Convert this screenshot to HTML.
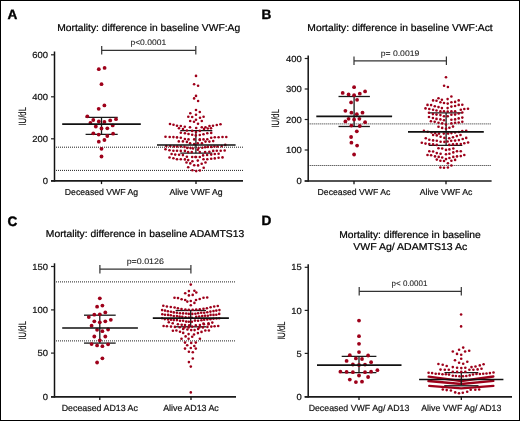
<!DOCTYPE html>
<html><head><meta charset="utf-8"><style>
html,body{margin:0;padding:0;background:#fff;}
svg{display:block;will-change:transform;}
text{font-family:"Liberation Sans", sans-serif;text-rendering:geometricPrecision;}
</style></head><body>
<svg width="520" height="421" viewBox="0 0 520 421">
<rect x="0" y="0" width="520" height="421" fill="#fff"/>
<g fill="#9e001a">
<line x1="54.5" y1="51.5" x2="54.5" y2="181.70000000000002" stroke="#111" stroke-width="1.5"/>
<line x1="51.0" y1="180.9" x2="243" y2="180.9" stroke="#1a1a1a" stroke-width="1.7"/>
<line x1="51.0" y1="54.8" x2="54.5" y2="54.8" stroke="#222" stroke-width="1.2"/>
<text x="48" y="57.9" font-size="8.9" text-anchor="end" font-weight="normal" fill="#111" textLength="15.69" lengthAdjust="spacingAndGlyphs" stroke="#111" stroke-width="0.2">600</text>
<line x1="51.0" y1="96.8" x2="54.5" y2="96.8" stroke="#222" stroke-width="1.2"/>
<text x="48" y="99.89999999999999" font-size="8.9" text-anchor="end" font-weight="normal" fill="#111" textLength="15.69" lengthAdjust="spacingAndGlyphs" stroke="#111" stroke-width="0.2">400</text>
<line x1="51.0" y1="138.8" x2="54.5" y2="138.8" stroke="#222" stroke-width="1.2"/>
<text x="48" y="141.9" font-size="8.9" text-anchor="end" font-weight="normal" fill="#111" textLength="15.69" lengthAdjust="spacingAndGlyphs" stroke="#111" stroke-width="0.2">200</text>
<line x1="51.0" y1="180.9" x2="54.5" y2="180.9" stroke="#222" stroke-width="1.2"/>
<text x="48" y="184.0" font-size="8.9" text-anchor="end" font-weight="normal" fill="#111" textLength="5.23" lengthAdjust="spacingAndGlyphs" stroke="#111" stroke-width="0.2">0</text>
<line x1="101.5" y1="180.9" x2="101.5" y2="184.1" stroke="#111" stroke-width="1.3"/>
<text x="101.5" y="195.0" font-size="8.7" text-anchor="middle" font-weight="normal" fill="#111" stroke="#111" stroke-width="0.2">Deceased VWF Ag</text>
<line x1="196" y1="180.9" x2="196" y2="184.1" stroke="#111" stroke-width="1.3"/>
<text x="196" y="195.0" font-size="8.7" text-anchor="middle" font-weight="normal" fill="#111" stroke="#111" stroke-width="0.2">Alive VWF Ag</text>
<line x1="56.0" y1="147.2" x2="243" y2="147.2" stroke="#222" stroke-width="1" stroke-dasharray="1 1"/>
<line x1="56.0" y1="170.4" x2="243" y2="170.4" stroke="#222" stroke-width="1" stroke-dasharray="1 1"/>
<text x="0" y="0" font-size="10.6" text-anchor="middle" fill="#111" stroke="#111" stroke-width="0.1" transform="translate(23.0 116.3) rotate(-90) scale(0.73 1)" dominant-baseline="central">IU/dL</text>
<text x="7.5" y="18.9" font-size="13.6" text-anchor="start" font-weight="bold" fill="#000" stroke="#000" stroke-width="0.4">A</text>
<text x="148.7" y="31" font-size="9.9" text-anchor="middle" font-weight="normal" fill="#000" textLength="183.0" lengthAdjust="spacingAndGlyphs" stroke="#000" stroke-width="0.22">Mortality: difference in baseline VWF:Ag</text>
<line x1="101.7" y1="50.4" x2="195.8" y2="50.4" stroke="#333" stroke-width="1.2"/>
<line x1="101.7" y1="46.1" x2="101.7" y2="54.6" stroke="#333" stroke-width="1.2"/>
<line x1="195.8" y1="46.1" x2="195.8" y2="54.6" stroke="#333" stroke-width="1.2"/>
<text x="148.3" y="44.6" font-size="8.0" text-anchor="middle" font-weight="normal" fill="#1a1a1a" textLength="35.8" lengthAdjust="spacingAndGlyphs" stroke="#1a1a1a" stroke-width="0.08">p&lt;0.0001</text>
<line x1="85.6" y1="117.4" x2="117.7" y2="117.4" stroke="#1a1a1a" stroke-width="1.3"/>
<line x1="85.6" y1="134.3" x2="117.7" y2="134.3" stroke="#1a1a1a" stroke-width="1.3"/>
<line x1="101.5" y1="117.4" x2="101.5" y2="134.3" stroke="#1a1a1a" stroke-width="1.3"/>
<line x1="180.3" y1="130.6" x2="212.3" y2="130.6" stroke="#1a1a1a" stroke-width="1.3"/>
<line x1="180.3" y1="153.2" x2="212.3" y2="153.2" stroke="#1a1a1a" stroke-width="1.3"/>
<line x1="195.9" y1="130.6" x2="195.9" y2="153.2" stroke="#1a1a1a" stroke-width="1.3"/>
<circle cx="98.8" cy="69.2" r="1.9"/>
<circle cx="104.6" cy="67.9" r="1.9"/>
<circle cx="101.5" cy="84.2" r="1.9"/>
<circle cx="98.7" cy="108.8" r="1.9"/>
<circle cx="104.4" cy="105.4" r="1.9"/>
<circle cx="87.3" cy="116.3" r="1.9"/>
<circle cx="93.3" cy="120.0" r="1.9"/>
<circle cx="98.8" cy="121.5" r="1.9"/>
<circle cx="104.4" cy="121.9" r="1.9"/>
<circle cx="110.2" cy="120.4" r="1.9"/>
<circle cx="116.0" cy="119.2" r="1.9"/>
<circle cx="90.4" cy="123.0" r="1.9"/>
<circle cx="95.8" cy="126.5" r="1.9"/>
<circle cx="101.5" cy="128.5" r="1.9"/>
<circle cx="107.3" cy="128.3" r="1.9"/>
<circle cx="112.7" cy="125.4" r="1.9"/>
<circle cx="93.3" cy="133.3" r="1.9"/>
<circle cx="98.7" cy="134.6" r="1.9"/>
<circle cx="107.3" cy="136.0" r="1.9"/>
<circle cx="113.1" cy="133.7" r="1.9"/>
<circle cx="98.8" cy="141.7" r="1.9"/>
<circle cx="104.4" cy="140.0" r="1.9"/>
<circle cx="101.5" cy="148.8" r="1.9"/>
<circle cx="101.5" cy="156.5" r="1.9"/>
<circle cx="196.0" cy="75.9" r="1.3"/>
<circle cx="194.1" cy="84.3" r="1.3"/>
<circle cx="198.1" cy="85.7" r="1.3"/>
<circle cx="196.0" cy="95.9" r="1.3"/>
<circle cx="194.1" cy="98.4" r="1.3"/>
<circle cx="198.1" cy="101.0" r="1.3"/>
<circle cx="196.0" cy="110.0" r="1.3"/>
<circle cx="199.8" cy="112.0" r="1.3"/>
<circle cx="190.3" cy="113.3" r="1.3"/>
<circle cx="196.0" cy="114.8" r="1.3"/>
<circle cx="188.3" cy="116.7" r="1.3"/>
<circle cx="192.2" cy="117.0" r="1.3"/>
<circle cx="200.0" cy="117.8" r="1.3"/>
<circle cx="203.6" cy="116.8" r="1.3"/>
<circle cx="190.2" cy="121.0" r="1.3"/>
<circle cx="196.0" cy="119.8" r="1.3"/>
<circle cx="194.0" cy="121.8" r="1.3"/>
<circle cx="201.8" cy="121.0" r="1.3"/>
<circle cx="198.0" cy="123.7" r="1.3"/>
<circle cx="170.0" cy="124.0" r="1.3"/>
<circle cx="173.5" cy="124.7" r="1.3"/>
<circle cx="177.0" cy="125.8" r="1.3"/>
<circle cx="180.8" cy="126.0" r="1.3"/>
<circle cx="179.0" cy="128.2" r="1.3"/>
<circle cx="184.8" cy="126.8" r="1.3"/>
<circle cx="183.0" cy="129.0" r="1.3"/>
<circle cx="190.0" cy="127.2" r="1.3"/>
<circle cx="196.2" cy="128.0" r="1.3"/>
<circle cx="201.8" cy="127.2" r="1.3"/>
<circle cx="205.5" cy="127.2" r="1.3"/>
<circle cx="209.5" cy="126.0" r="1.3"/>
<circle cx="213.0" cy="125.8" r="1.3"/>
<circle cx="216.8" cy="125.0" r="1.3"/>
<circle cx="220.5" cy="124.2" r="1.3"/>
<circle cx="204.0" cy="129.0" r="1.3"/>
<circle cx="207.8" cy="128.5" r="1.3"/>
<circle cx="211.0" cy="128.2" r="1.3"/>
<circle cx="186.9" cy="130.5" r="1.3"/>
<circle cx="192.2" cy="130.9" r="1.3"/>
<circle cx="180.8" cy="132.7" r="1.3"/>
<circle cx="184.9" cy="133.3" r="1.3"/>
<circle cx="188.5" cy="134.0" r="1.3"/>
<circle cx="192.2" cy="134.8" r="1.3"/>
<circle cx="195.8" cy="135.4" r="1.3"/>
<circle cx="165.5" cy="136.7" r="1.3"/>
<circle cx="169.7" cy="137.0" r="1.3"/>
<circle cx="173.4" cy="137.1" r="1.3"/>
<circle cx="177.0" cy="137.4" r="1.3"/>
<circle cx="180.8" cy="137.8" r="1.3"/>
<circle cx="184.9" cy="139.0" r="1.3"/>
<circle cx="188.5" cy="139.4" r="1.3"/>
<circle cx="194.2" cy="139.4" r="1.3"/>
<circle cx="199.8" cy="130.9" r="1.3"/>
<circle cx="199.8" cy="135.0" r="1.3"/>
<circle cx="203.5" cy="134.2" r="1.3"/>
<circle cx="207.3" cy="133.2" r="1.3"/>
<circle cx="211.2" cy="132.9" r="1.3"/>
<circle cx="211.2" cy="137.8" r="1.3"/>
<circle cx="214.8" cy="137.2" r="1.3"/>
<circle cx="218.6" cy="137.2" r="1.3"/>
<circle cx="222.5" cy="137.0" r="1.3"/>
<circle cx="226.3" cy="137.0" r="1.3"/>
<circle cx="196.0" cy="132.1" r="1.3"/>
<circle cx="199.8" cy="139.4" r="1.3"/>
<circle cx="203.5" cy="139.4" r="1.3"/>
<circle cx="207.3" cy="139.2" r="1.3"/>
<circle cx="178.8" cy="141.4" r="1.3"/>
<circle cx="182.9" cy="141.4" r="1.3"/>
<circle cx="186.9" cy="141.9" r="1.3"/>
<circle cx="190.1" cy="143.3" r="1.3"/>
<circle cx="194.2" cy="144.1" r="1.3"/>
<circle cx="166.3" cy="146.1" r="1.3"/>
<circle cx="170.3" cy="146.1" r="1.3"/>
<circle cx="174.0" cy="146.5" r="1.3"/>
<circle cx="177.2" cy="146.5" r="1.3"/>
<circle cx="180.8" cy="146.5" r="1.3"/>
<circle cx="184.5" cy="146.9" r="1.3"/>
<circle cx="187.3" cy="147.9" r="1.3"/>
<circle cx="190.5" cy="148.1" r="1.3"/>
<circle cx="193.0" cy="148.5" r="1.3"/>
<circle cx="165.5" cy="149.3" r="1.3"/>
<circle cx="169.5" cy="150.3" r="1.3"/>
<circle cx="173.4" cy="150.8" r="1.3"/>
<circle cx="177.0" cy="150.8" r="1.3"/>
<circle cx="180.8" cy="150.9" r="1.3"/>
<circle cx="184.9" cy="150.9" r="1.3"/>
<circle cx="188.1" cy="152.1" r="1.3"/>
<circle cx="191.8" cy="152.1" r="1.3"/>
<circle cx="171.6" cy="154.0" r="1.3"/>
<circle cx="175.2" cy="154.6" r="1.3"/>
<circle cx="179.1" cy="154.8" r="1.3"/>
<circle cx="182.9" cy="155.1" r="1.3"/>
<circle cx="186.9" cy="156.7" r="1.3"/>
<circle cx="192.2" cy="157.0" r="1.3"/>
<circle cx="169.5" cy="157.5" r="1.3"/>
<circle cx="173.4" cy="158.2" r="1.3"/>
<circle cx="177.0" cy="159.2" r="1.3"/>
<circle cx="180.8" cy="159.2" r="1.3"/>
<circle cx="184.9" cy="159.4" r="1.3"/>
<circle cx="195.4" cy="157.0" r="1.3"/>
<circle cx="199.8" cy="140.0" r="1.3"/>
<circle cx="205.5" cy="141.6" r="1.3"/>
<circle cx="209.4" cy="141.6" r="1.3"/>
<circle cx="213.2" cy="141.1" r="1.3"/>
<circle cx="197.8" cy="143.3" r="1.3"/>
<circle cx="201.9" cy="143.3" r="1.3"/>
<circle cx="198.6" cy="148.1" r="1.3"/>
<circle cx="202.3" cy="147.7" r="1.3"/>
<circle cx="205.1" cy="147.3" r="1.3"/>
<circle cx="207.9" cy="146.9" r="1.3"/>
<circle cx="211.2" cy="146.9" r="1.3"/>
<circle cx="214.4" cy="146.5" r="1.3"/>
<circle cx="217.6" cy="146.5" r="1.3"/>
<circle cx="221.7" cy="146.1" r="1.3"/>
<circle cx="225.3" cy="144.9" r="1.3"/>
<circle cx="197.8" cy="149.7" r="1.3"/>
<circle cx="199.8" cy="152.1" r="1.3"/>
<circle cx="205.1" cy="152.1" r="1.3"/>
<circle cx="209.4" cy="151.7" r="1.3"/>
<circle cx="213.2" cy="150.9" r="1.3"/>
<circle cx="216.8" cy="150.8" r="1.3"/>
<circle cx="220.7" cy="150.8" r="1.3"/>
<circle cx="224.7" cy="150.5" r="1.3"/>
<circle cx="203.1" cy="155.4" r="1.3"/>
<circle cx="207.1" cy="155.0" r="1.3"/>
<circle cx="211.2" cy="154.6" r="1.3"/>
<circle cx="214.8" cy="154.0" r="1.3"/>
<circle cx="218.6" cy="153.8" r="1.3"/>
<circle cx="196.0" cy="157.0" r="1.3"/>
<circle cx="199.8" cy="157.0" r="1.3"/>
<circle cx="203.5" cy="159.2" r="1.3"/>
<circle cx="207.3" cy="159.2" r="1.3"/>
<circle cx="211.2" cy="158.8" r="1.3"/>
<circle cx="214.8" cy="158.4" r="1.3"/>
<circle cx="218.6" cy="157.8" r="1.3"/>
<circle cx="222.5" cy="157.4" r="1.3"/>
<circle cx="186.5" cy="162.5" r="1.3"/>
<circle cx="190.3" cy="163.4" r="1.3"/>
<circle cx="192.4" cy="161.3" r="1.3"/>
<circle cx="197.8" cy="160.6" r="1.3"/>
<circle cx="201.7" cy="163.7" r="1.3"/>
<circle cx="205.5" cy="162.5" r="1.3"/>
<circle cx="194.2" cy="165.2" r="1.3"/>
<circle cx="198.1" cy="165.4" r="1.3"/>
<circle cx="188.2" cy="167.3" r="1.3"/>
<circle cx="203.7" cy="167.8" r="1.3"/>
<circle cx="192.4" cy="170.2" r="1.3"/>
<circle cx="196.2" cy="171.1" r="1.3"/>
<circle cx="199.9" cy="170.5" r="1.3"/>
<circle cx="188.2" cy="160.1" r="1.3"/>
<line x1="62.2" y1="124.2" x2="140.8" y2="124.2" stroke="#111" stroke-width="1.7"/>
<line x1="157" y1="145.0" x2="235.6" y2="145.0" stroke="#111" stroke-width="1.7"/>
<line x1="308.2" y1="55.5" x2="308.2" y2="181.8" stroke="#111" stroke-width="1.5"/>
<line x1="304.7" y1="181.0" x2="491.6" y2="181.0" stroke="#1a1a1a" stroke-width="1.7"/>
<line x1="304.7" y1="58.5" x2="308.2" y2="58.5" stroke="#222" stroke-width="1.2"/>
<text x="301.7" y="61.6" font-size="8.9" text-anchor="end" font-weight="normal" fill="#111" textLength="15.69" lengthAdjust="spacingAndGlyphs" stroke="#111" stroke-width="0.2">400</text>
<line x1="304.7" y1="89" x2="308.2" y2="89" stroke="#222" stroke-width="1.2"/>
<text x="301.7" y="92.1" font-size="8.9" text-anchor="end" font-weight="normal" fill="#111" textLength="15.69" lengthAdjust="spacingAndGlyphs" stroke="#111" stroke-width="0.2">300</text>
<line x1="304.7" y1="119.5" x2="308.2" y2="119.5" stroke="#222" stroke-width="1.2"/>
<text x="301.7" y="122.6" font-size="8.9" text-anchor="end" font-weight="normal" fill="#111" textLength="15.69" lengthAdjust="spacingAndGlyphs" stroke="#111" stroke-width="0.2">200</text>
<line x1="304.7" y1="150" x2="308.2" y2="150" stroke="#222" stroke-width="1.2"/>
<text x="301.7" y="153.1" font-size="8.9" text-anchor="end" font-weight="normal" fill="#111" textLength="15.69" lengthAdjust="spacingAndGlyphs" stroke="#111" stroke-width="0.2">100</text>
<line x1="304.7" y1="181" x2="308.2" y2="181" stroke="#222" stroke-width="1.2"/>
<text x="301.7" y="184.1" font-size="8.9" text-anchor="end" font-weight="normal" fill="#111" textLength="5.23" lengthAdjust="spacingAndGlyphs" stroke="#111" stroke-width="0.2">0</text>
<line x1="354" y1="181.0" x2="354" y2="184.2" stroke="#111" stroke-width="1.3"/>
<text x="354" y="194.9" font-size="8.7" text-anchor="middle" font-weight="normal" fill="#111" stroke="#111" stroke-width="0.2">Deceased VWF Ac</text>
<line x1="446" y1="181.0" x2="446" y2="184.2" stroke="#111" stroke-width="1.3"/>
<text x="446" y="194.9" font-size="8.7" text-anchor="middle" font-weight="normal" fill="#111" stroke="#111" stroke-width="0.2">Alive VWF Ac</text>
<line x1="309.7" y1="123.9" x2="491.6" y2="123.9" stroke="#222" stroke-width="1" stroke-dasharray="1 1"/>
<line x1="309.7" y1="165.5" x2="491.6" y2="165.5" stroke="#222" stroke-width="1" stroke-dasharray="1 1"/>
<text x="0" y="0" font-size="10.6" text-anchor="middle" fill="#111" stroke="#111" stroke-width="0.1" transform="translate(276.05 118.3) rotate(-90) scale(0.73 1)" dominant-baseline="central">IU/dL</text>
<text x="261.5" y="18.5" font-size="13.6" text-anchor="start" font-weight="bold" fill="#000" stroke="#000" stroke-width="0.4">B</text>
<text x="400" y="31" font-size="9.9" text-anchor="middle" font-weight="normal" fill="#000" textLength="185.3" lengthAdjust="spacingAndGlyphs" stroke="#000" stroke-width="0.22">Mortality: difference in baseline VWF:Act</text>
<line x1="354" y1="60.8" x2="446.4" y2="60.8" stroke="#333" stroke-width="1.2"/>
<line x1="354" y1="56.5" x2="354" y2="65.0" stroke="#333" stroke-width="1.2"/>
<line x1="446.4" y1="56.5" x2="446.4" y2="65.0" stroke="#333" stroke-width="1.2"/>
<text x="400" y="56.1" font-size="8.0" text-anchor="middle" font-weight="normal" fill="#1a1a1a" textLength="38.6" lengthAdjust="spacingAndGlyphs" stroke="#1a1a1a" stroke-width="0.08">p= 0.0019</text>
<line x1="338.5" y1="96.5" x2="369.9" y2="96.5" stroke="#1a1a1a" stroke-width="1.3"/>
<line x1="338.5" y1="126.5" x2="369.9" y2="126.5" stroke="#1a1a1a" stroke-width="1.3"/>
<line x1="354.1" y1="96.5" x2="354.1" y2="126.5" stroke="#1a1a1a" stroke-width="1.3"/>
<line x1="428.7" y1="112.9" x2="462.3" y2="112.9" stroke="#1a1a1a" stroke-width="1.3"/>
<line x1="428.7" y1="145.3" x2="462.3" y2="145.3" stroke="#1a1a1a" stroke-width="1.3"/>
<line x1="446.1" y1="112.9" x2="446.1" y2="145.3" stroke="#1a1a1a" stroke-width="1.3"/>
<circle cx="354.1" cy="87.2" r="1.9"/>
<circle cx="342.7" cy="92.9" r="1.9"/>
<circle cx="348.6" cy="94.4" r="1.9"/>
<circle cx="354.1" cy="95.2" r="1.9"/>
<circle cx="359.8" cy="93.7" r="1.9"/>
<circle cx="365.1" cy="91.4" r="1.9"/>
<circle cx="357.1" cy="99.8" r="1.9"/>
<circle cx="351.1" cy="102.4" r="1.9"/>
<circle cx="345.4" cy="110.8" r="1.9"/>
<circle cx="351.4" cy="112.7" r="1.9"/>
<circle cx="356.8" cy="114.2" r="1.9"/>
<circle cx="362.5" cy="112.7" r="1.9"/>
<circle cx="348.6" cy="118.8" r="1.9"/>
<circle cx="354.1" cy="119.5" r="1.9"/>
<circle cx="359.4" cy="118.8" r="1.9"/>
<circle cx="345.4" cy="121.4" r="1.9"/>
<circle cx="365.1" cy="122.2" r="1.9"/>
<circle cx="351.4" cy="125.6" r="1.9"/>
<circle cx="359.8" cy="126.0" r="1.9"/>
<circle cx="356.8" cy="131.3" r="1.9"/>
<circle cx="351.1" cy="137.0" r="1.9"/>
<circle cx="351.4" cy="142.7" r="1.9"/>
<circle cx="357.1" cy="145.6" r="1.9"/>
<circle cx="354.1" cy="154.5" r="1.9"/>
<circle cx="446.0" cy="77.2" r="1.3"/>
<circle cx="444.1" cy="85.8" r="1.3"/>
<circle cx="447.9" cy="87.0" r="1.3"/>
<circle cx="451.4" cy="96.5" r="1.3"/>
<circle cx="438.5" cy="98.2" r="1.3"/>
<circle cx="433.1" cy="100.4" r="1.3"/>
<circle cx="436.5" cy="100.8" r="1.3"/>
<circle cx="441.9" cy="99.8" r="1.3"/>
<circle cx="447.6" cy="99.1" r="1.3"/>
<circle cx="440.4" cy="102.2" r="1.3"/>
<circle cx="444.0" cy="103.0" r="1.3"/>
<circle cx="447.7" cy="103.6" r="1.3"/>
<circle cx="451.4" cy="102.3" r="1.3"/>
<circle cx="455.1" cy="101.9" r="1.3"/>
<circle cx="458.7" cy="100.4" r="1.3"/>
<circle cx="427.5" cy="104.9" r="1.3"/>
<circle cx="431.1" cy="105.1" r="1.3"/>
<circle cx="434.8" cy="106.2" r="1.3"/>
<circle cx="438.5" cy="107.1" r="1.3"/>
<circle cx="441.9" cy="108.1" r="1.3"/>
<circle cx="447.6" cy="108.1" r="1.3"/>
<circle cx="451.4" cy="106.6" r="1.3"/>
<circle cx="455.1" cy="106.0" r="1.3"/>
<circle cx="458.7" cy="104.9" r="1.3"/>
<circle cx="462.3" cy="104.7" r="1.3"/>
<circle cx="425.5" cy="108.4" r="1.3"/>
<circle cx="429.3" cy="109.0" r="1.3"/>
<circle cx="433.1" cy="109.8" r="1.3"/>
<circle cx="436.5" cy="110.5" r="1.3"/>
<circle cx="440.4" cy="111.4" r="1.3"/>
<circle cx="444.0" cy="111.2" r="1.3"/>
<circle cx="447.7" cy="111.6" r="1.3"/>
<circle cx="451.4" cy="111.2" r="1.3"/>
<circle cx="455.1" cy="111.2" r="1.3"/>
<circle cx="460.8" cy="109.8" r="1.3"/>
<circle cx="464.3" cy="109.0" r="1.3"/>
<circle cx="468.0" cy="108.7" r="1.3"/>
<circle cx="429.0" cy="112.7" r="1.3"/>
<circle cx="432.9" cy="114.1" r="1.3"/>
<circle cx="436.5" cy="114.6" r="1.3"/>
<circle cx="440.4" cy="115.1" r="1.3"/>
<circle cx="444.0" cy="116.2" r="1.3"/>
<circle cx="447.7" cy="116.2" r="1.3"/>
<circle cx="451.4" cy="114.8" r="1.3"/>
<circle cx="455.1" cy="114.6" r="1.3"/>
<circle cx="458.7" cy="113.5" r="1.3"/>
<circle cx="462.3" cy="112.5" r="1.3"/>
<circle cx="429.0" cy="117.0" r="1.3"/>
<circle cx="432.9" cy="118.0" r="1.3"/>
<circle cx="436.5" cy="118.9" r="1.3"/>
<circle cx="440.4" cy="119.4" r="1.3"/>
<circle cx="444.0" cy="120.2" r="1.3"/>
<circle cx="451.4" cy="119.8" r="1.3"/>
<circle cx="455.1" cy="119.4" r="1.3"/>
<circle cx="458.7" cy="118.4" r="1.3"/>
<circle cx="462.3" cy="117.6" r="1.3"/>
<circle cx="430.9" cy="121.2" r="1.3"/>
<circle cx="434.7" cy="121.8" r="1.3"/>
<circle cx="438.5" cy="122.8" r="1.3"/>
<circle cx="442.2" cy="123.4" r="1.3"/>
<circle cx="446.0" cy="124.5" r="1.3"/>
<circle cx="451.4" cy="123.4" r="1.3"/>
<circle cx="455.1" cy="122.8" r="1.3"/>
<circle cx="458.7" cy="122.5" r="1.3"/>
<circle cx="462.3" cy="121.8" r="1.3"/>
<circle cx="438.5" cy="126.8" r="1.3"/>
<circle cx="442.2" cy="127.9" r="1.3"/>
<circle cx="446.0" cy="128.8" r="1.3"/>
<circle cx="449.4" cy="127.7" r="1.3"/>
<circle cx="453.0" cy="126.6" r="1.3"/>
<circle cx="423.9" cy="130.9" r="1.3"/>
<circle cx="427.7" cy="131.8" r="1.3"/>
<circle cx="431.5" cy="132.5" r="1.3"/>
<circle cx="435.2" cy="133.1" r="1.3"/>
<circle cx="439.0" cy="133.6" r="1.3"/>
<circle cx="443.8" cy="133.6" r="1.3"/>
<circle cx="448.1" cy="133.6" r="1.3"/>
<circle cx="451.4" cy="133.1" r="1.3"/>
<circle cx="455.1" cy="132.5" r="1.3"/>
<circle cx="458.9" cy="132.0" r="1.3"/>
<circle cx="462.3" cy="131.1" r="1.3"/>
<circle cx="466.2" cy="130.7" r="1.3"/>
<circle cx="433.1" cy="135.0" r="1.3"/>
<circle cx="436.8" cy="135.4" r="1.3"/>
<circle cx="440.6" cy="136.8" r="1.3"/>
<circle cx="444.4" cy="137.9" r="1.3"/>
<circle cx="449.2" cy="138.2" r="1.3"/>
<circle cx="453.0" cy="137.2" r="1.3"/>
<circle cx="456.8" cy="136.1" r="1.3"/>
<circle cx="460.5" cy="135.0" r="1.3"/>
<circle cx="425.8" cy="138.2" r="1.3"/>
<circle cx="429.3" cy="139.7" r="1.3"/>
<circle cx="433.1" cy="140.4" r="1.3"/>
<circle cx="436.8" cy="140.8" r="1.3"/>
<circle cx="440.6" cy="141.7" r="1.3"/>
<circle cx="444.4" cy="141.9" r="1.3"/>
<circle cx="447.6" cy="141.5" r="1.3"/>
<circle cx="451.2" cy="140.8" r="1.3"/>
<circle cx="455.1" cy="140.6" r="1.3"/>
<circle cx="458.9" cy="140.1" r="1.3"/>
<circle cx="462.7" cy="139.0" r="1.3"/>
<circle cx="466.2" cy="137.9" r="1.3"/>
<circle cx="421.8" cy="142.8" r="1.3"/>
<circle cx="425.5" cy="143.6" r="1.3"/>
<circle cx="429.3" cy="144.0" r="1.3"/>
<circle cx="433.1" cy="144.4" r="1.3"/>
<circle cx="436.8" cy="144.9" r="1.3"/>
<circle cx="449.2" cy="144.9" r="1.3"/>
<circle cx="453.0" cy="144.4" r="1.3"/>
<circle cx="456.8" cy="144.0" r="1.3"/>
<circle cx="460.8" cy="144.0" r="1.3"/>
<circle cx="464.3" cy="143.3" r="1.3"/>
<circle cx="468.1" cy="142.5" r="1.3"/>
<circle cx="438.5" cy="148.3" r="1.3"/>
<circle cx="442.2" cy="148.5" r="1.3"/>
<circle cx="446.0" cy="149.9" r="1.3"/>
<circle cx="449.4" cy="149.4" r="1.3"/>
<circle cx="453.3" cy="148.5" r="1.3"/>
<circle cx="429.3" cy="151.3" r="1.3"/>
<circle cx="433.1" cy="151.5" r="1.3"/>
<circle cx="436.8" cy="153.1" r="1.3"/>
<circle cx="440.6" cy="153.7" r="1.3"/>
<circle cx="446.0" cy="154.2" r="1.3"/>
<circle cx="449.4" cy="153.7" r="1.3"/>
<circle cx="453.3" cy="152.4" r="1.3"/>
<circle cx="457.0" cy="151.3" r="1.3"/>
<circle cx="460.8" cy="151.3" r="1.3"/>
<circle cx="427.5" cy="155.0" r="1.3"/>
<circle cx="431.1" cy="155.3" r="1.3"/>
<circle cx="435.0" cy="156.4" r="1.3"/>
<circle cx="438.7" cy="156.9" r="1.3"/>
<circle cx="442.2" cy="157.5" r="1.3"/>
<circle cx="446.0" cy="159.1" r="1.3"/>
<circle cx="449.4" cy="158.0" r="1.3"/>
<circle cx="453.3" cy="156.9" r="1.3"/>
<circle cx="457.0" cy="156.4" r="1.3"/>
<circle cx="460.8" cy="156.1" r="1.3"/>
<circle cx="464.3" cy="155.0" r="1.3"/>
<circle cx="436.8" cy="159.6" r="1.3"/>
<circle cx="440.4" cy="160.7" r="1.3"/>
<circle cx="444.0" cy="161.0" r="1.3"/>
<circle cx="451.4" cy="160.7" r="1.3"/>
<circle cx="455.1" cy="159.9" r="1.3"/>
<circle cx="447.9" cy="163.2" r="1.3"/>
<circle cx="451.4" cy="165.5" r="1.3"/>
<circle cx="440.4" cy="167.5" r="1.3"/>
<circle cx="444.0" cy="167.7" r="1.3"/>
<circle cx="447.9" cy="167.5" r="1.3"/>
<line x1="316.3" y1="116.4" x2="392.1" y2="116.4" stroke="#111" stroke-width="1.7"/>
<line x1="408" y1="131.8" x2="483.8" y2="131.8" stroke="#111" stroke-width="1.7"/>
<line x1="54.5" y1="263.3" x2="54.5" y2="397.6" stroke="#111" stroke-width="1.5"/>
<line x1="51.0" y1="396.8" x2="236" y2="396.8" stroke="#1a1a1a" stroke-width="1.7"/>
<line x1="51.0" y1="266.5" x2="54.5" y2="266.5" stroke="#222" stroke-width="1.2"/>
<text x="48" y="269.6" font-size="8.9" text-anchor="end" font-weight="normal" fill="#111" textLength="15.69" lengthAdjust="spacingAndGlyphs" stroke="#111" stroke-width="0.2">150</text>
<line x1="51.0" y1="309.9" x2="54.5" y2="309.9" stroke="#222" stroke-width="1.2"/>
<text x="48" y="313.0" font-size="8.9" text-anchor="end" font-weight="normal" fill="#111" textLength="15.69" lengthAdjust="spacingAndGlyphs" stroke="#111" stroke-width="0.2">100</text>
<line x1="51.0" y1="353.1" x2="54.5" y2="353.1" stroke="#222" stroke-width="1.2"/>
<text x="48" y="356.20000000000005" font-size="8.9" text-anchor="end" font-weight="normal" fill="#111" textLength="10.46" lengthAdjust="spacingAndGlyphs" stroke="#111" stroke-width="0.2">50</text>
<line x1="51.0" y1="396.8" x2="54.5" y2="396.8" stroke="#222" stroke-width="1.2"/>
<text x="48" y="399.90000000000003" font-size="8.9" text-anchor="end" font-weight="normal" fill="#111" textLength="5.23" lengthAdjust="spacingAndGlyphs" stroke="#111" stroke-width="0.2">0</text>
<line x1="99.8" y1="396.8" x2="99.8" y2="400.0" stroke="#111" stroke-width="1.3"/>
<text x="99.8" y="410.7" font-size="8.85" text-anchor="middle" font-weight="normal" fill="#111" stroke="#111" stroke-width="0.2">Deceased AD13 Ac</text>
<line x1="191" y1="396.8" x2="191" y2="400.0" stroke="#111" stroke-width="1.3"/>
<text x="191" y="410.7" font-size="8.85" text-anchor="middle" font-weight="normal" fill="#111" stroke="#111" stroke-width="0.2">Alive AD13 Ac</text>
<line x1="56.0" y1="281.9" x2="236" y2="281.9" stroke="#222" stroke-width="1" stroke-dasharray="1 1"/>
<line x1="56.0" y1="340.9" x2="236" y2="340.9" stroke="#222" stroke-width="1" stroke-dasharray="1 1"/>
<text x="0" y="0" font-size="10.6" text-anchor="middle" fill="#111" stroke="#111" stroke-width="0.1" transform="translate(23.0 330.3) rotate(-90) scale(0.73 1)" dominant-baseline="central">IU/dL</text>
<text x="7.5" y="225.7" font-size="13.6" text-anchor="start" font-weight="bold" fill="#000" stroke="#000" stroke-width="0.4">C</text>
<text x="145" y="237.2" font-size="9.9" text-anchor="middle" font-weight="normal" fill="#000" textLength="198.3" lengthAdjust="spacingAndGlyphs" stroke="#000" stroke-width="0.22">Mortality: difference in baseline ADAMTS13</text>
<line x1="99.9" y1="269.2" x2="190.9" y2="269.2" stroke="#333" stroke-width="1.2"/>
<line x1="99.9" y1="264.9" x2="99.9" y2="273.4" stroke="#333" stroke-width="1.2"/>
<line x1="190.9" y1="264.9" x2="190.9" y2="273.4" stroke="#333" stroke-width="1.2"/>
<text x="145.3" y="263.6" font-size="8.0" text-anchor="middle" font-weight="normal" fill="#1a1a1a" textLength="37.3" lengthAdjust="spacingAndGlyphs" stroke="#1a1a1a" stroke-width="0.08">p=0.0126</text>
<line x1="84" y1="315.2" x2="115.7" y2="315.2" stroke="#1a1a1a" stroke-width="1.3"/>
<line x1="84" y1="343.1" x2="115.7" y2="343.1" stroke="#1a1a1a" stroke-width="1.3"/>
<line x1="99.8" y1="315.2" x2="99.8" y2="343.1" stroke="#1a1a1a" stroke-width="1.3"/>
<line x1="175.6" y1="310.5" x2="206" y2="310.5" stroke="#1a1a1a" stroke-width="1.3"/>
<line x1="175.6" y1="326.8" x2="206" y2="326.8" stroke="#1a1a1a" stroke-width="1.3"/>
<line x1="190.7" y1="310.5" x2="190.7" y2="326.8" stroke="#1a1a1a" stroke-width="1.3"/>
<circle cx="99.8" cy="298.3" r="1.9"/>
<circle cx="97.1" cy="306.7" r="1.9"/>
<circle cx="102.4" cy="305.6" r="1.9"/>
<circle cx="94.3" cy="314.7" r="1.9"/>
<circle cx="99.8" cy="314.3" r="1.9"/>
<circle cx="105.3" cy="312.4" r="1.9"/>
<circle cx="88.8" cy="317.1" r="1.9"/>
<circle cx="94.3" cy="321.3" r="1.9"/>
<circle cx="99.8" cy="322.3" r="1.9"/>
<circle cx="105.3" cy="321.3" r="1.9"/>
<circle cx="110.8" cy="319.8" r="1.9"/>
<circle cx="91.6" cy="325.7" r="1.9"/>
<circle cx="97.1" cy="329.8" r="1.9"/>
<circle cx="102.4" cy="331.2" r="1.9"/>
<circle cx="108.1" cy="329.5" r="1.9"/>
<circle cx="94.3" cy="336.5" r="1.9"/>
<circle cx="105.3" cy="336.5" r="1.9"/>
<circle cx="99.8" cy="340.3" r="1.9"/>
<circle cx="91.6" cy="344.1" r="1.9"/>
<circle cx="97.1" cy="345.4" r="1.9"/>
<circle cx="102.4" cy="346.2" r="1.9"/>
<circle cx="108.1" cy="344.3" r="1.9"/>
<circle cx="102.4" cy="358.3" r="1.9"/>
<circle cx="97.1" cy="362.5" r="1.9"/>
<circle cx="190.8" cy="284.6" r="1.3"/>
<circle cx="188.9" cy="291.1" r="1.3"/>
<circle cx="194.4" cy="290.8" r="1.3"/>
<circle cx="185.2" cy="293.3" r="1.3"/>
<circle cx="196.3" cy="292.5" r="1.3"/>
<circle cx="188.9" cy="295.4" r="1.3"/>
<circle cx="192.7" cy="294.9" r="1.3"/>
<circle cx="174.5" cy="297.8" r="1.3"/>
<circle cx="178.0" cy="298.1" r="1.3"/>
<circle cx="181.6" cy="299.2" r="1.3"/>
<circle cx="185.2" cy="300.0" r="1.3"/>
<circle cx="187.3" cy="301.6" r="1.3"/>
<circle cx="190.8" cy="301.0" r="1.3"/>
<circle cx="194.4" cy="302.9" r="1.3"/>
<circle cx="196.0" cy="300.0" r="1.3"/>
<circle cx="199.7" cy="299.0" r="1.3"/>
<circle cx="203.5" cy="297.8" r="1.3"/>
<circle cx="207.2" cy="297.5" r="1.3"/>
<circle cx="190.8" cy="305.2" r="1.3"/>
<circle cx="163.3" cy="305.7" r="1.3"/>
<circle cx="166.9" cy="306.5" r="1.3"/>
<circle cx="170.8" cy="307.0" r="1.3"/>
<circle cx="174.6" cy="307.5" r="1.3"/>
<circle cx="177.9" cy="308.3" r="1.3"/>
<circle cx="181.5" cy="309.1" r="1.3"/>
<circle cx="185.4" cy="309.5" r="1.3"/>
<circle cx="188.8" cy="309.7" r="1.3"/>
<circle cx="192.7" cy="309.7" r="1.3"/>
<circle cx="162.1" cy="310.1" r="1.3"/>
<circle cx="165.0" cy="310.6" r="1.3"/>
<circle cx="167.9" cy="311.2" r="1.3"/>
<circle cx="171.0" cy="311.8" r="1.3"/>
<circle cx="173.8" cy="312.4" r="1.3"/>
<circle cx="176.9" cy="312.8" r="1.3"/>
<circle cx="180.0" cy="313.2" r="1.3"/>
<circle cx="183.1" cy="313.4" r="1.3"/>
<circle cx="186.2" cy="313.5" r="1.3"/>
<circle cx="188.8" cy="313.9" r="1.3"/>
<circle cx="192.3" cy="313.9" r="1.3"/>
<circle cx="162.3" cy="314.3" r="1.3"/>
<circle cx="165.0" cy="314.7" r="1.3"/>
<circle cx="168.1" cy="314.9" r="1.3"/>
<circle cx="170.8" cy="315.2" r="1.3"/>
<circle cx="173.8" cy="316.0" r="1.3"/>
<circle cx="176.9" cy="316.0" r="1.3"/>
<circle cx="179.6" cy="316.6" r="1.3"/>
<circle cx="182.3" cy="316.8" r="1.3"/>
<circle cx="185.6" cy="317.4" r="1.3"/>
<circle cx="188.8" cy="317.5" r="1.3"/>
<circle cx="191.9" cy="317.8" r="1.3"/>
<circle cx="162.1" cy="318.2" r="1.3"/>
<circle cx="164.8" cy="319.1" r="1.3"/>
<circle cx="168.1" cy="319.5" r="1.3"/>
<circle cx="171.0" cy="319.8" r="1.3"/>
<circle cx="173.8" cy="320.1" r="1.3"/>
<circle cx="176.9" cy="320.1" r="1.3"/>
<circle cx="180.0" cy="320.8" r="1.3"/>
<circle cx="183.1" cy="320.8" r="1.3"/>
<circle cx="186.2" cy="321.6" r="1.3"/>
<circle cx="188.8" cy="321.8" r="1.3"/>
<circle cx="191.9" cy="321.8" r="1.3"/>
<circle cx="168.8" cy="322.2" r="1.3"/>
<circle cx="172.7" cy="323.2" r="1.3"/>
<circle cx="196.2" cy="309.5" r="1.3"/>
<circle cx="199.8" cy="309.3" r="1.3"/>
<circle cx="203.5" cy="308.8" r="1.3"/>
<circle cx="206.9" cy="308.2" r="1.3"/>
<circle cx="210.6" cy="307.2" r="1.3"/>
<circle cx="214.2" cy="306.5" r="1.3"/>
<circle cx="217.8" cy="306.0" r="1.3"/>
<circle cx="195.4" cy="313.7" r="1.3"/>
<circle cx="198.1" cy="313.2" r="1.3"/>
<circle cx="201.2" cy="312.8" r="1.3"/>
<circle cx="204.2" cy="312.8" r="1.3"/>
<circle cx="207.3" cy="312.2" r="1.3"/>
<circle cx="210.4" cy="311.6" r="1.3"/>
<circle cx="213.5" cy="311.1" r="1.3"/>
<circle cx="216.3" cy="310.6" r="1.3"/>
<circle cx="219.4" cy="310.1" r="1.3"/>
<circle cx="196.2" cy="316.8" r="1.3"/>
<circle cx="199.2" cy="316.5" r="1.3"/>
<circle cx="202.2" cy="316.0" r="1.3"/>
<circle cx="205.0" cy="315.8" r="1.3"/>
<circle cx="207.8" cy="315.7" r="1.3"/>
<circle cx="210.6" cy="314.9" r="1.3"/>
<circle cx="213.5" cy="314.9" r="1.3"/>
<circle cx="216.3" cy="314.7" r="1.3"/>
<circle cx="219.2" cy="313.9" r="1.3"/>
<circle cx="195.0" cy="320.6" r="1.3"/>
<circle cx="198.1" cy="320.8" r="1.3"/>
<circle cx="201.4" cy="320.3" r="1.3"/>
<circle cx="204.2" cy="319.8" r="1.3"/>
<circle cx="207.3" cy="319.5" r="1.3"/>
<circle cx="210.4" cy="319.3" r="1.3"/>
<circle cx="213.5" cy="318.8" r="1.3"/>
<circle cx="216.5" cy="318.5" r="1.3"/>
<circle cx="219.2" cy="318.2" r="1.3"/>
<circle cx="203.5" cy="323.5" r="1.3"/>
<circle cx="208.5" cy="323.2" r="1.3"/>
<circle cx="212.3" cy="322.6" r="1.3"/>
<circle cx="163.6" cy="326.0" r="1.3"/>
<circle cx="166.9" cy="326.2" r="1.3"/>
<circle cx="171.0" cy="326.6" r="1.3"/>
<circle cx="174.9" cy="326.9" r="1.3"/>
<circle cx="177.9" cy="324.2" r="1.3"/>
<circle cx="181.7" cy="324.8" r="1.3"/>
<circle cx="185.0" cy="325.0" r="1.3"/>
<circle cx="189.2" cy="325.4" r="1.3"/>
<circle cx="195.8" cy="325.4" r="1.3"/>
<circle cx="199.9" cy="325.0" r="1.3"/>
<circle cx="203.9" cy="324.2" r="1.3"/>
<circle cx="208.6" cy="324.2" r="1.3"/>
<circle cx="207.4" cy="326.9" r="1.3"/>
<circle cx="211.3" cy="326.6" r="1.3"/>
<circle cx="214.6" cy="326.2" r="1.3"/>
<circle cx="218.2" cy="326.0" r="1.3"/>
<circle cx="179.7" cy="327.2" r="1.3"/>
<circle cx="184.4" cy="327.4" r="1.3"/>
<circle cx="188.6" cy="327.4" r="1.3"/>
<circle cx="192.2" cy="326.6" r="1.3"/>
<circle cx="199.3" cy="327.4" r="1.3"/>
<circle cx="202.9" cy="327.4" r="1.3"/>
<circle cx="172.9" cy="330.7" r="1.3"/>
<circle cx="176.4" cy="330.5" r="1.3"/>
<circle cx="180.0" cy="331.7" r="1.3"/>
<circle cx="183.2" cy="328.9" r="1.3"/>
<circle cx="187.4" cy="329.5" r="1.3"/>
<circle cx="191.2" cy="330.1" r="1.3"/>
<circle cx="194.6" cy="330.1" r="1.3"/>
<circle cx="198.1" cy="328.9" r="1.3"/>
<circle cx="201.5" cy="331.9" r="1.3"/>
<circle cx="205.3" cy="330.5" r="1.3"/>
<circle cx="208.9" cy="330.5" r="1.3"/>
<circle cx="183.2" cy="332.9" r="1.3"/>
<circle cx="188.6" cy="334.1" r="1.3"/>
<circle cx="194.0" cy="334.5" r="1.3"/>
<circle cx="197.9" cy="333.1" r="1.3"/>
<circle cx="185.6" cy="336.4" r="1.3"/>
<circle cx="192.2" cy="336.7" r="1.3"/>
<circle cx="181.5" cy="338.8" r="1.3"/>
<circle cx="188.6" cy="338.8" r="1.3"/>
<circle cx="199.9" cy="338.8" r="1.3"/>
<circle cx="185.0" cy="342.6" r="1.3"/>
<circle cx="191.2" cy="342.9" r="1.3"/>
<circle cx="195.8" cy="342.6" r="1.3"/>
<circle cx="187.2" cy="345.3" r="1.3"/>
<circle cx="194.3" cy="346.0" r="1.3"/>
<circle cx="185.0" cy="348.6" r="1.3"/>
<circle cx="190.8" cy="348.0" r="1.3"/>
<circle cx="195.8" cy="348.6" r="1.3"/>
<circle cx="188.9" cy="351.7" r="1.3"/>
<circle cx="192.8" cy="352.3" r="1.3"/>
<circle cx="192.8" cy="358.5" r="1.3"/>
<circle cx="188.9" cy="362.1" r="1.3"/>
<circle cx="190.8" cy="366.6" r="1.3"/>
<circle cx="190.8" cy="392.4" r="1.3"/>
<line x1="62.2" y1="328" x2="137.9" y2="328" stroke="#111" stroke-width="1.7"/>
<line x1="152.8" y1="318.1" x2="228.9" y2="318.1" stroke="#111" stroke-width="1.7"/>
<line x1="308.2" y1="264.2" x2="308.2" y2="397.6" stroke="#111" stroke-width="1.5"/>
<line x1="304.7" y1="396.8" x2="512" y2="396.8" stroke="#1a1a1a" stroke-width="1.7"/>
<line x1="304.7" y1="267.3" x2="308.2" y2="267.3" stroke="#222" stroke-width="1.2"/>
<text x="301.7" y="270.40000000000003" font-size="8.9" text-anchor="end" font-weight="normal" fill="#111" textLength="10.46" lengthAdjust="spacingAndGlyphs" stroke="#111" stroke-width="0.2">15</text>
<line x1="304.7" y1="310.4" x2="308.2" y2="310.4" stroke="#222" stroke-width="1.2"/>
<text x="301.7" y="313.5" font-size="8.9" text-anchor="end" font-weight="normal" fill="#111" textLength="10.46" lengthAdjust="spacingAndGlyphs" stroke="#111" stroke-width="0.2">10</text>
<line x1="304.7" y1="353.4" x2="308.2" y2="353.4" stroke="#222" stroke-width="1.2"/>
<text x="301.7" y="356.5" font-size="8.9" text-anchor="end" font-weight="normal" fill="#111" textLength="5.23" lengthAdjust="spacingAndGlyphs" stroke="#111" stroke-width="0.2">5</text>
<line x1="304.7" y1="396.8" x2="308.2" y2="396.8" stroke="#222" stroke-width="1.2"/>
<text x="301.7" y="399.90000000000003" font-size="8.9" text-anchor="end" font-weight="normal" fill="#111" textLength="5.23" lengthAdjust="spacingAndGlyphs" stroke="#111" stroke-width="0.2">0</text>
<line x1="359" y1="396.8" x2="359" y2="400.0" stroke="#111" stroke-width="1.3"/>
<text x="359" y="410.7" font-size="8.8" text-anchor="middle" font-weight="normal" fill="#111" stroke="#111" stroke-width="0.2">Deceased VWF Ag/ AD13</text>
<line x1="461.3" y1="396.8" x2="461.3" y2="400.0" stroke="#111" stroke-width="1.3"/>
<text x="461.3" y="410.7" font-size="8.8" text-anchor="middle" font-weight="normal" fill="#111" stroke="#111" stroke-width="0.2">Alive VWF Ag/ AD13</text>
<text x="0" y="0" font-size="10.6" text-anchor="middle" fill="#111" stroke="#111" stroke-width="0.1" transform="translate(281.55 330.6) rotate(-90) scale(0.73 1)" dominant-baseline="central">IU/dL</text>
<text x="261.5" y="225.1" font-size="13.6" text-anchor="start" font-weight="bold" fill="#000" stroke="#000" stroke-width="0.4">D</text>
<text x="410" y="237.5" font-size="9.9" text-anchor="middle" font-weight="normal" fill="#000" textLength="141.6" lengthAdjust="spacingAndGlyphs" stroke="#000" stroke-width="0.22">Mortality: difference in baseline</text>
<text x="410.25" y="250.2" font-size="9.9" text-anchor="middle" font-weight="normal" fill="#000" textLength="114" lengthAdjust="spacingAndGlyphs" stroke="#000" stroke-width="0.22">VWF Ag/ ADAMTS13 Ac</text>
<line x1="359.2" y1="291.4" x2="461.3" y2="291.4" stroke="#333" stroke-width="1.2"/>
<line x1="359.2" y1="287.09999999999997" x2="359.2" y2="295.59999999999997" stroke="#333" stroke-width="1.2"/>
<line x1="461.3" y1="287.09999999999997" x2="461.3" y2="295.59999999999997" stroke="#333" stroke-width="1.2"/>
<text x="409.5" y="285.7" font-size="8.0" text-anchor="middle" font-weight="normal" fill="#1a1a1a" stroke="#1a1a1a" stroke-width="0.08">p&lt; 0.0001</text>
<line x1="341.7" y1="356.4" x2="376.4" y2="356.4" stroke="#1a1a1a" stroke-width="1.3"/>
<line x1="341.7" y1="372.6" x2="376.4" y2="372.6" stroke="#1a1a1a" stroke-width="1.3"/>
<line x1="359" y1="356.4" x2="359" y2="372.6" stroke="#1a1a1a" stroke-width="1.3"/>
<line x1="444.5" y1="372.6" x2="478.3" y2="372.6" stroke="#1a1a1a" stroke-width="1.3"/>
<line x1="444.5" y1="385.7" x2="478.3" y2="385.7" stroke="#1a1a1a" stroke-width="1.3"/>
<line x1="461.3" y1="372.6" x2="461.3" y2="385.7" stroke="#1a1a1a" stroke-width="1.3"/>
<circle cx="359.0" cy="320.6" r="1.9"/>
<circle cx="359.0" cy="336.2" r="1.9"/>
<circle cx="359.0" cy="343.8" r="1.9"/>
<circle cx="359.0" cy="352.1" r="1.9"/>
<circle cx="349.8" cy="355.2" r="1.9"/>
<circle cx="368.1" cy="355.5" r="1.9"/>
<circle cx="355.9" cy="358.4" r="1.9"/>
<circle cx="362.0" cy="359.0" r="1.9"/>
<circle cx="346.6" cy="360.9" r="1.9"/>
<circle cx="371.1" cy="362.2" r="1.9"/>
<circle cx="352.9" cy="364.5" r="1.9"/>
<circle cx="359.0" cy="365.0" r="1.9"/>
<circle cx="365.0" cy="364.6" r="1.9"/>
<circle cx="340.4" cy="371.7" r="1.9"/>
<circle cx="346.6" cy="371.9" r="1.9"/>
<circle cx="352.9" cy="372.2" r="1.9"/>
<circle cx="365.0" cy="372.2" r="1.9"/>
<circle cx="371.1" cy="371.7" r="1.9"/>
<circle cx="377.4" cy="370.2" r="1.9"/>
<circle cx="359.0" cy="375.5" r="1.9"/>
<circle cx="368.1" cy="377.0" r="1.9"/>
<circle cx="349.8" cy="379.6" r="1.9"/>
<circle cx="355.9" cy="382.1" r="1.9"/>
<circle cx="362.0" cy="381.7" r="1.9"/>
<circle cx="461.1" cy="314.5" r="1.3"/>
<circle cx="461.1" cy="326.4" r="1.3"/>
<circle cx="463.2" cy="347.6" r="1.3"/>
<circle cx="459.1" cy="349.7" r="1.3"/>
<circle cx="452.8" cy="351.5" r="1.3"/>
<circle cx="465.1" cy="351.5" r="1.3"/>
<circle cx="469.2" cy="350.8" r="1.3"/>
<circle cx="457.0" cy="353.9" r="1.3"/>
<circle cx="461.2" cy="354.8" r="1.3"/>
<circle cx="461.2" cy="358.7" r="1.3"/>
<circle cx="455.0" cy="360.3" r="1.3"/>
<circle cx="459.1" cy="362.8" r="1.3"/>
<circle cx="463.2" cy="363.8" r="1.3"/>
<circle cx="467.3" cy="361.8" r="1.3"/>
<circle cx="438.4" cy="364.0" r="1.3"/>
<circle cx="442.7" cy="364.7" r="1.3"/>
<circle cx="479.8" cy="365.4" r="1.3"/>
<circle cx="483.6" cy="364.2" r="1.3"/>
<circle cx="446.7" cy="366.0" r="1.3"/>
<circle cx="452.8" cy="367.1" r="1.3"/>
<circle cx="457.1" cy="367.7" r="1.3"/>
<circle cx="461.3" cy="368.1" r="1.3"/>
<circle cx="440.5" cy="369.6" r="1.3"/>
<circle cx="444.8" cy="369.8" r="1.3"/>
<circle cx="448.8" cy="369.8" r="1.3"/>
<circle cx="452.8" cy="371.7" r="1.3"/>
<circle cx="457.1" cy="371.9" r="1.3"/>
<circle cx="461.3" cy="371.9" r="1.3"/>
<circle cx="428.6" cy="372.7" r="1.3"/>
<circle cx="432.1" cy="373.1" r="1.3"/>
<circle cx="435.7" cy="373.7" r="1.3"/>
<circle cx="439.0" cy="373.8" r="1.3"/>
<circle cx="442.5" cy="374.2" r="1.3"/>
<circle cx="445.9" cy="374.2" r="1.3"/>
<circle cx="449.0" cy="374.6" r="1.3"/>
<circle cx="452.8" cy="375.8" r="1.3"/>
<circle cx="455.9" cy="376.0" r="1.3"/>
<circle cx="459.4" cy="376.3" r="1.3"/>
<circle cx="475.5" cy="366.5" r="1.3"/>
<circle cx="471.5" cy="367.1" r="1.3"/>
<circle cx="465.3" cy="367.7" r="1.3"/>
<circle cx="469.4" cy="369.8" r="1.3"/>
<circle cx="473.4" cy="369.8" r="1.3"/>
<circle cx="477.6" cy="369.4" r="1.3"/>
<circle cx="481.5" cy="368.8" r="1.3"/>
<circle cx="465.3" cy="371.7" r="1.3"/>
<circle cx="463.0" cy="376.2" r="1.3"/>
<circle cx="466.3" cy="376.0" r="1.3"/>
<circle cx="469.7" cy="375.4" r="1.3"/>
<circle cx="473.0" cy="374.5" r="1.3"/>
<circle cx="476.5" cy="374.0" r="1.3"/>
<circle cx="479.9" cy="374.0" r="1.3"/>
<circle cx="483.2" cy="373.8" r="1.3"/>
<circle cx="486.5" cy="373.5" r="1.3"/>
<circle cx="489.9" cy="373.1" r="1.3"/>
<circle cx="493.5" cy="372.5" r="1.3"/>
<circle cx="442.8" cy="389.5" r="1.3"/>
<circle cx="446.7" cy="390.1" r="1.3"/>
<circle cx="450.9" cy="390.5" r="1.3"/>
<circle cx="455.2" cy="392.4" r="1.3"/>
<circle cx="459.0" cy="393.2" r="1.3"/>
<circle cx="462.8" cy="392.8" r="1.3"/>
<circle cx="470.7" cy="389.7" r="1.3"/>
<circle cx="475.3" cy="389.8" r="1.3"/>
<circle cx="479.2" cy="389.5" r="1.3"/>
<circle cx="467.2" cy="391.8" r="1.3"/>
<polyline points="428.6,376.7 461.3,381 493.4,376.5" fill="none" stroke="#9e001a" stroke-width="2.3" stroke-linecap="round" stroke-linejoin="round"/>
<polyline points="428.4,381 461.3,384 493.4,380.8" fill="none" stroke="#9e001a" stroke-width="2.3" stroke-linecap="round" stroke-linejoin="round"/>
<polyline points="429.2,385.8 461.3,388.3 493.4,385.9" fill="none" stroke="#9e001a" stroke-width="2.3" stroke-linecap="round" stroke-linejoin="round"/>
<line x1="317" y1="365.1" x2="401.5" y2="365.1" stroke="#111" stroke-width="1.7"/>
<line x1="419.1" y1="379.5" x2="503.4" y2="379.5" stroke="#111" stroke-width="1.7"/>
<line x1="461.3" y1="379.5" x2="461.3" y2="385.7" stroke="#1a1a1a" stroke-width="1.3"/>
<line x1="444.5" y1="385.7" x2="478.3" y2="385.7" stroke="#333" stroke-width="1.2"/>
</g>
<rect x="0.5" y="0.5" width="519" height="420" fill="none" stroke="#000" stroke-width="1"/>
</svg>
</body></html>
